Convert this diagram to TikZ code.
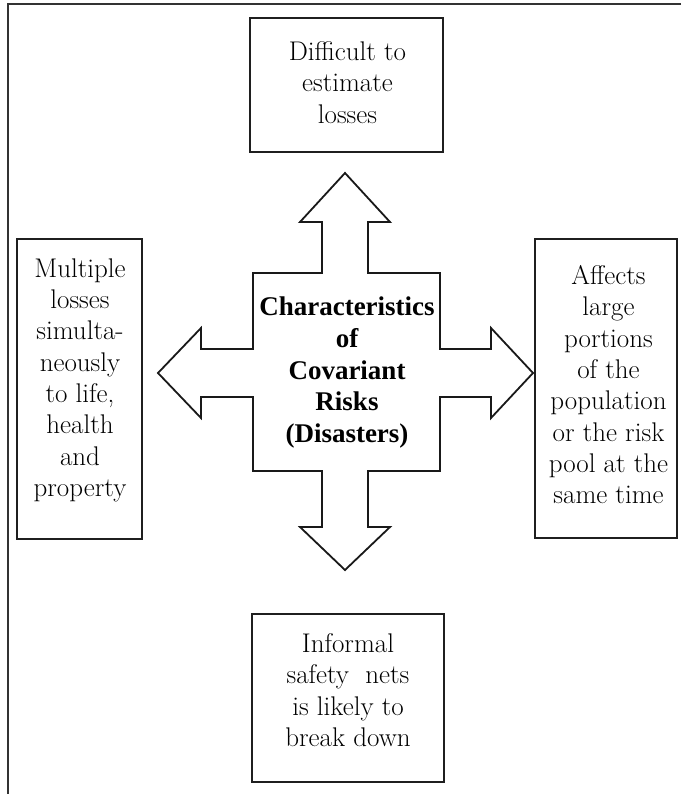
\documentclass[tikz,border=0pt]{standalone}
\usepackage{fontspec}
\newfontfamily\centerfont{Liberation Serif}
\begin{document}
\begin{tikzpicture}[x=1pt,y=-1pt,
  infobox/.style={draw=black!88, line width=2pt, rectangle, inner sep=0pt},
  boxtext/.style={inner sep=0pt, anchor=north, align=center, font={\fontsize{27}{31.3}\selectfont}},
  crosstext/.style={inner sep=0pt, anchor=north, align=center, font={\centerfont\bfseries\fontsize{27}{31.7}\selectfont}},
  crossline/.style={draw=black!90, line width=1.8pt, line join=miter}]
\useasboundingbox (0,0) rectangle (681,794);
% outer frame (top and left sides)
\coordinate (frameTR) at (681,4.5);
\coordinate (frameTL) at (8,4.5);
\coordinate (frameBL) at (8,794);
\draw[draw=black!80, line width=2pt] (frameTR) -- (frameTL) -- (frameBL);

% boxes
\node[infobox, minimum width=193pt, minimum height=134pt] (topbox) at (346.5,85) {};
\node[infobox, minimum width=192pt, minimum height=168pt] (botbox) at (348,698) {};
\node[infobox, minimum width=125pt, minimum height=300pt] (leftbox) at (79.5,389) {};
\node[infobox, minimum width=142pt, minimum height=299pt] (rightbox) at (606,388.5) {};

\node[boxtext] (toptext) at (347.5,41.3) {Difficult to\\estimate\\losses};
\node[boxtext] (bottext) at (348,633.3) {Informal\\safety\ \ nets\\is likely to\\break down};
\node[boxtext] (lefttext) at (80,258.3) {Multiple\\losses\\simulta-\\neously\\to life,\\health\\and\\property};
\node[boxtext] (righttext) at (608.5,265.3) {Affects\\large\\portions\\of the\\population\\or the risk\\pool at the\\same time};

% four-way arrow
\draw[crossline] (345,173) -- (390,222) -- (368,222) -- (368,273) -- (440,273) -- (440,349)
  -- (491,349) -- (491,328) -- (533,373) -- (491,418) -- (491,397) -- (440,397)
  -- (440,471) -- (368,471) -- (368,527) -- (390,527) -- (345,570) -- (300,527)
  -- (322,527) -- (322,471) -- (253,471) -- (253,397) -- (201,397) -- (201,418)
  -- (158,373) -- (201,328) -- (201,349) -- (253,349) -- (253,273) -- (322,273)
  -- (322,222) -- (300,222) -- cycle;

\node[crosstext] (centertext) at (347,296.7) {Characteristics\\of\\Covariant\\Risks\\(Disasters)};
\end{tikzpicture}
\end{document}
